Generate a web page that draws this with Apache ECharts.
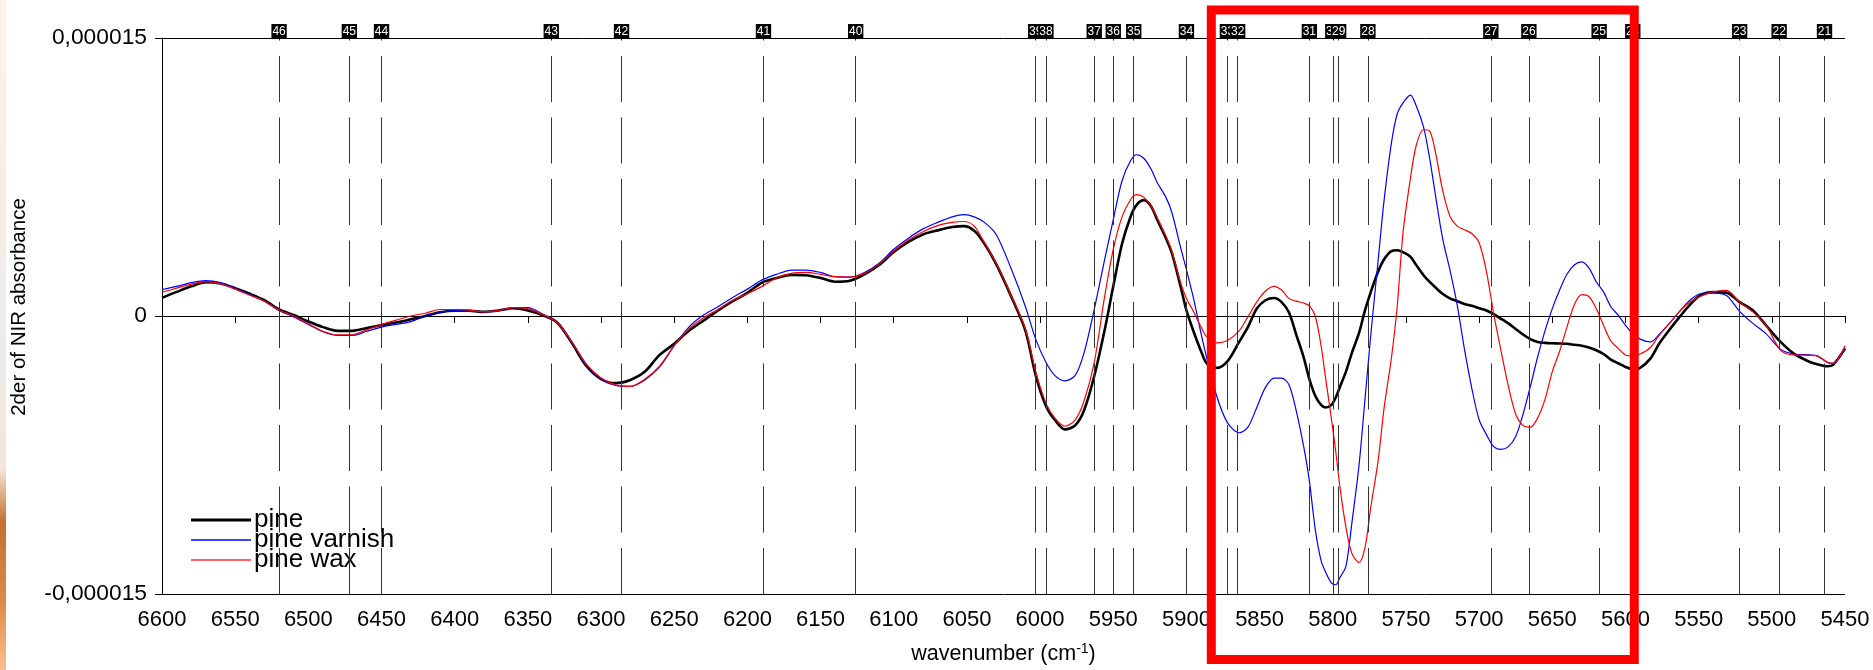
<!DOCTYPE html>
<html><head><meta charset="utf-8">
<script src="https://cdn.jsdelivr.net/npm/echarts@6/dist/echarts.min.js"></script>
<style>html,body{margin:0;padding:0;background:#fff}#c{width:1873px;height:670px}</style>
</head><body><div id="c"></div>
<script>
// Values in units of 1e-6 (second derivative of NIR absorbance)
const wavenumbers = [6600,6590,6580,6570,6560,6550,6540,6530,6520,6510,6500,6490,6480,6470,6460,6450,6440,6430,6420,6410,6400,6390,6380,6370,6360,6350,6340,6330,6320,6310,6300,6290,6280,6270,6260,6250,6240,6230,
6220,6210,6200,6190,6180,6170,6160,6150,6140,6130,6120,6110,6100,6090,6080,6070,6060,6052,6045,6038,6030,6020,6010,6003,5996,5990,5983,5976,5970,5963,5956,5950,5944,5938,5934,5929,5924,5920,5914,5910,5904,
5900,5895,5890,5886,5879,5872,5864,5858,5852,5846,5840,5835,5830,5825,5820,5816,5812,5808,5805,5801,5798,5795,5791,5787,5782,5778,5774,5769,5765,5760,5756,5752,5747,5743,5738,5734,5730,5725,5720,5715,5710,5705,5700,5695,5690,5685,5680,5675,5670,5665,5660,5655,5650,5645,5640,5635,5630,5625,5620,5615,5610,5605,5600,5595,
5590,5583,5577,5570,5563,5556,5549,5540,5531,5522,5513,5504,5494,5485,5474,5469,5462,5458,5450];

const pine = [0.98,1.3,1.6,1.82,1.75,1.5,1.2,0.85,0.35,0.05,-0.3,-0.6,-0.8,-0.8,-0.65,-0.49,-0.35,-0.18,0.0,0.2,0.28,0.28,0.22,0.3,0.42,0.3,0.05,-0.35,-1.45,-2.7,-3.4,-3.62,-3.45,-3.0,-2.1,-1.5,-0.8,-0.25,
0.3,0.8,1.25,1.8,2.05,2.22,2.2,2.05,1.85,1.9,2.25,2.75,3.45,4.0,4.4,4.62,4.8,4.85,4.6,3.9,2.8,1.1,-0.8,-3.2,-4.85,-5.6,-6.12,-5.9,-5.1,-3.25,-0.8,1.6,3.9,5.4,6.0,6.25,5.9,5.2,4.2,3.4,1.6,
0.3,-0.86,-1.9,-2.57,-2.8,-2.45,-1.4,-0.6,0.39,0.85,0.97,0.75,0.2,-1.0,-2.2,-3.4,-4.3,-4.8,-4.94,-4.8,-4.4,-3.8,-3.0,-2.0,-0.9,0.3,1.3,2.4,3.05,3.5,3.55,3.45,3.2,2.75,2.2,1.85,1.55,1.2,0.95,0.8,0.65,0.55,0.42,0.3,0.1,-0.15,-0.4,-0.7,-1.0,-1.25,-1.4,-1.45,-1.47,-1.48,-1.5,-1.55,-1.6,-1.7,-1.85,-2.05,-2.35,-2.55,-2.75,-2.87,
-2.8,-2.3,-1.5,-0.75,-0.05,0.6,1.11,1.29,1.26,0.75,0.31,-0.5,-1.4,-2.03,-2.48,-2.6,-2.71,-2.62,-1.76];

const pineVarnish = [1.43,1.6,1.8,1.91,1.8,1.5,1.15,0.8,0.3,-0.05,-0.45,-0.85,-1.05,-1.05,-0.82,-0.6,-0.45,-0.3,0.0,0.2,0.3,0.3,0.22,0.3,0.45,0.45,0.1,-0.35,-1.4,-2.65,-3.4,-3.75,-3.8,-3.45,-2.75,-1.6,-0.6,0.05,
0.5,1.0,1.45,1.95,2.25,2.48,2.48,2.35,2.12,2.1,2.35,2.85,3.6,4.2,4.7,5.05,5.35,5.47,5.35,5.05,4.4,2.6,0.5,-1.25,-2.5,-3.2,-3.5,-3.2,-2.0,0.35,3.0,5.2,7.3,8.4,8.7,8.5,7.9,7.2,6.4,5.6,3.7,
2.5,0.9,-0.95,-2.3,-4.4,-5.75,-6.3,-6.0,-4.95,-3.85,-3.35,-3.35,-3.7,-5.1,-7.0,-8.9,-11.5,-13.2,-13.8,-14.4,-14.5,-14.1,-13.5,-11.2,-8.0,-4.5,-1.0,3.0,6.2,9.3,10.9,11.5,11.92,11.35,10.2,8.6,6.6,4.2,2.5,0.6,-1.8,-3.9,-5.6,-6.4,-7.05,-7.2,-7.05,-6.5,-5.3,-3.8,-2.2,-0.8,0.4,1.4,2.25,2.75,2.92,2.6,1.85,1.3,0.5,0.05,-0.5,-0.95,
-1.25,-1.4,-1.0,-0.4,0.25,0.85,1.2,1.25,1.1,0.25,-0.4,-0.95,-1.8,-2.05,-2.1,-2.15,-2.5,-2.55,-1.7];

const pineWax = [1.28,1.5,1.72,1.85,1.75,1.45,1.12,0.8,0.32,0.0,-0.42,-0.82,-1.02,-1.0,-0.75,-0.45,-0.22,0.0,0.15,0.35,0.35,0.32,0.22,0.3,0.45,0.4,0.08,-0.35,-1.4,-2.6,-3.35,-3.72,-3.8,-3.4,-2.7,-1.6,-0.7,-0.1,
0.35,0.85,1.2,1.6,2.05,2.3,2.35,2.25,2.12,2.1,2.3,2.8,3.5,4.1,4.55,4.88,5.05,5.1,4.85,3.95,2.85,1.15,-0.7,-3.0,-4.7,-5.5,-5.95,-5.6,-4.6,-2.5,1.0,3.6,5.35,6.3,6.55,6.4,5.9,5.3,4.3,3.5,1.8,
0.95,0.22,-0.6,-1.13,-1.45,-1.32,-0.8,-0.05,0.75,1.35,1.6,1.4,0.95,0.8,0.7,0.55,0.0,-1.6,-3.3,-5.5,-7.3,-9.3,-11.4,-12.8,-13.3,-12.5,-10.3,-7.8,-5.0,-2.3,0.5,4.5,7.4,9.2,10.05,10.0,8.9,6.8,5.4,4.85,4.65,4.45,3.95,2.4,0.1,-1.9,-3.8,-5.3,-5.9,-6.0,-5.5,-4.5,-3.0,-1.9,-0.6,0.6,1.15,1.05,0.4,-0.5,-1.35,-1.75,-2.1,-2.15,
-2.05,-1.7,-1.05,-0.4,0.25,0.75,1.05,1.3,1.38,0.75,0.22,-0.5,-1.85,-2.1,-2.12,-2.15,-2.5,-2.55,-1.6];

const bandNumbers = [46,45,44,43,42,41,40,39,38,37,36,35,34,33,32,31,30,29,28,27,26,25,24,23,22,21];
const bandWavenumbers = [6520,6472,6450,6334,6286,6189,6126,6003,5996,5963,5950,5936,5900,5872,5865,5816,5800,5796,5776,5692,5666,5618,5595,5522,5495,5464];

const yTickLabels = {'-15':'-0,000015','0':'0','15':'0,000015'};
const highlightRange = [5883, 5594];

const FONT = '"Liberation Sans", Arial, sans-serif';
const chart = echarts.init(document.getElementById('c'), null, {renderer:'canvas'});

const pairs = arr => wavenumbers.map((w,i)=>[w, arr[i]]);

const option = {
  animation: false,
  backgroundColor: '#fff',
  textStyle: {fontFamily: FONT},
  grid: {left: 162, right: 28, top: 38, bottom: 75, containLabel: false},
  legend: {
    data: [
      {name: 'pine', icon: 'path://M0,0H60V3H0Z'},
      {name: 'pine varnish', icon: 'path://M0,0H60V1.4H0Z'},
      {name: 'pine wax', icon: 'path://M0,0H60V1.6H0Z'}
    ],
    orient: 'vertical', left: 186, top: 502, padding: 5,
    itemWidth: 60, itemHeight: 14, itemGap: -6,
    textStyle: {fontFamily: FONT, fontSize: 26, color: '#000', padding: [0,0,0,-2]}
  },
  xAxis: {
    type: 'value', inverse: true, min: 5450, max: 6600, interval: 50,
    name: 'wavenumber (cm{sup|-1})', nameLocation: 'middle', nameGap: 48,
    nameTextStyle: {fontFamily: FONT, fontSize: 21.5, color: '#000',
      rich: {sup: {fontFamily: FONT, fontSize: 14, color: '#000', verticalAlign: 'top', padding: [0,0,10,0]}}},
    axisLine: {show: true, lineStyle: {color: '#000', width: 1}},
    axisTick: {show: true, inside: false, length: 7, lineStyle: {color: '#000'}},
    axisLabel: {fontFamily: FONT, fontSize: 22, color: '#000', margin: 15, formatter: v => String(v)},
    splitLine: {show: false}
  },
  yAxis: {
    type: 'value', min: -15, max: 15, interval: 15,
    name: '2der of NIR absorbance', nameLocation: 'middle', nameGap: 132, nameRotate: 90,
    nameTextStyle: {fontFamily: FONT, fontSize: 20.5, color: '#000', padding: [0,0,0,18]},
    axisLine: {show: true, onZero: false, lineStyle: {color: '#000', width: 1}},
    axisTick: {show: true, inside: false, length: 7, lineStyle: {color: '#000'}},
    axisLabel: {fontFamily: FONT, fontSize: 22.8, color: '#000', margin: 15,
      formatter: v => yTickLabels[String(v)] !== undefined ? yTickLabels[String(v)] : ''},
    splitLine: {show: true, lineStyle: {color: '#000', width: 1}}
  },
  series: [
    {
      name: 'bands', type: 'line', data: [], z: 1, silent: true,
      markLine: {
        silent: true, symbol: ['none','none'], animation: false,
        lineStyle: {color: '#333', width: 1, type: [46, 15.5]},
        label: {show: true, position: 'end', distance: -1, color: '#fff', backgroundColor: '#000',
          fontFamily: FONT, fontSize: 12, padding: [2,1,1,1]},
        emphasis: {disabled: true},
        data: bandWavenumbers.map((w,i)=>({xAxis: w, label: {formatter: String(bandNumbers[i])}}))
      }
    },
    {name: 'pine', type: 'line', data: pairs(pine), symbol: 'none', smooth: 0.3, z: 3,
      lineStyle: {color: '#000', width: 2.6}, itemStyle: {color: '#000'}},
    {name: 'pine varnish', type: 'line', data: pairs(pineVarnish), symbol: 'none', smooth: 0.3, z: 3,
      lineStyle: {color: '#0000ff', width: 1.2}, itemStyle: {color: '#0000ff'}},
    {name: 'pine wax', type: 'line', data: pairs(pineWax), symbol: 'none', smooth: 0.3, z: 3,
      lineStyle: {color: '#ff0000', width: 1.2}, itemStyle: {color: '#ff3030'}}
  ]
};
chart.setOption(option);

const x0 = chart.convertToPixel({xAxisIndex: 0}, highlightRange[0]);
const x1 = chart.convertToPixel({xAxisIndex: 0}, highlightRange[1]);
chart.setOption({
  graphic: [
    {type: 'rect', z: 100, silent: true,
      shape: {x: x0, y: 10, width: x1 - x0, height: 649.5},
      style: {fill: 'none', stroke: '#ff0000', lineWidth: 9}},
    {type: 'rect', z: 0, silent: true,
      shape: {x: 0, y: 0, width: 6, height: 670},
      style: {fill: new echarts.graphic.LinearGradient(0,0,0,1,[
        {offset: 0, color: '#fdf3ec'}, {offset: 0.3, color: '#f7ece6'}, {offset: 0.5, color: '#ececec'},
        {offset: 0.7, color: '#f6e4d8'}, {offset: 0.78, color: '#c4702f'}, {offset: 0.9, color: '#e08a48'},
        {offset: 1, color: '#f7c090'}])}}
  ]
});
</script>
</body></html>
